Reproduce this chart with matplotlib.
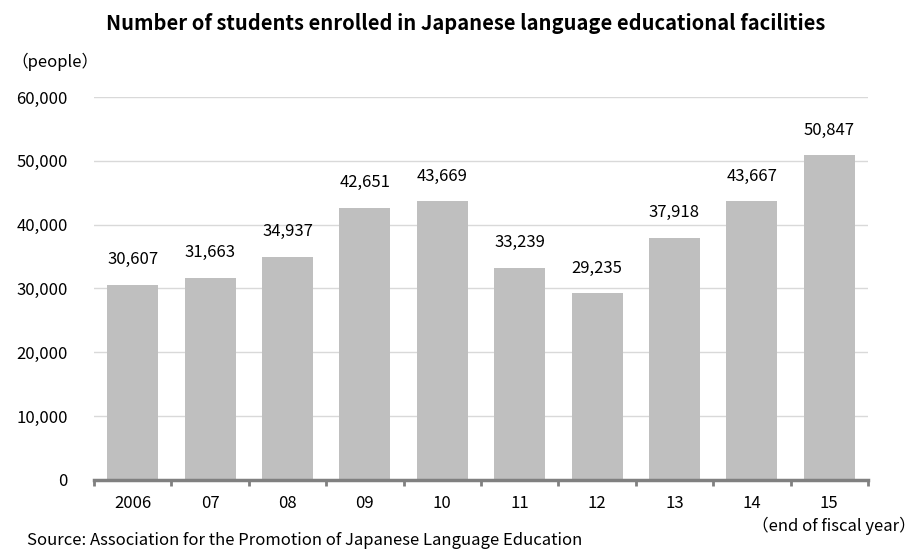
import numpy as np
import matplotlib.pyplot as plt
from matplotlib.ticker import FuncFormatter

plt.rcParams['font.family'] = ['Noto Sans CJK JP', 'DejaVu Sans']

# 日本語教育機関の在籍者数
years = ["2006", "07", "08", "09", "10", "11", "12", "13", "14", "15"]
students = [30607, 31663, 34937, 42651, 43669, 33239, 29235, 37918, 43667, 50847]
yticks = [0, 10000, 20000, 30000, 40000, 50000, 60000]

fig = plt.figure(figsize=(9.18, 5.5), dpi=100)
ax = fig.add_axes([0.1024, 0.1273, 0.8431, 0.6964])

x = np.arange(len(years))
ax.bar(x, students, width=0.66, color="#bfbfbf", zorder=2)
for xi, v in zip(x, students):
    ax.text(xi, v + 2600, f"{v:,}", ha="center", va="bottom", fontsize=12)

ax.set_xlim(-0.5, len(years) - 0.5)
ax.set_ylim(0, 60000)
ax.set_yticks(yticks)
ax.yaxis.set_major_formatter(FuncFormatter(lambda v, p: f"{int(v):,}"))
ax.grid(axis="y", color="#d9d9d9", linewidth=1, zorder=0)
ax.tick_params(axis="y", length=0, pad=19, labelsize=12)

# x軸: 区切りに目盛り
ax.set_xticks(x)
ax.set_xticklabels(years, fontsize=12)
ax.set_xticks(np.arange(-0.5, len(years)), minor=True)
ax.tick_params(axis="x", which="major", length=0, pad=11)
ax.tick_params(axis="x", which="minor", length=4, width=2, color="#808080", direction="out")

for s in ["top", "right", "left"]:
    ax.spines[s].set_visible(False)
ax.spines["bottom"].set_color("#808080")
ax.spines["bottom"].set_linewidth(2.5)

fig.text(0.507, 0.958, "Number of students enrolled in Japanese language educational facilities",
         ha="center", va="center", fontsize=14.5, fontweight="bold")
fig.text(0.012, 0.887, "（people）", ha="left", va="center", fontsize=12)
fig.text(0.998, 0.044, "（end of fiscal year）", ha="right", va="center", fontsize=12)
fig.text(0.029, 0.018, "Source: Association for the Promotion of Japanese Language Education",
         ha="left", va="center", fontsize=12)

fig.savefig("out.png", dpi=100)
